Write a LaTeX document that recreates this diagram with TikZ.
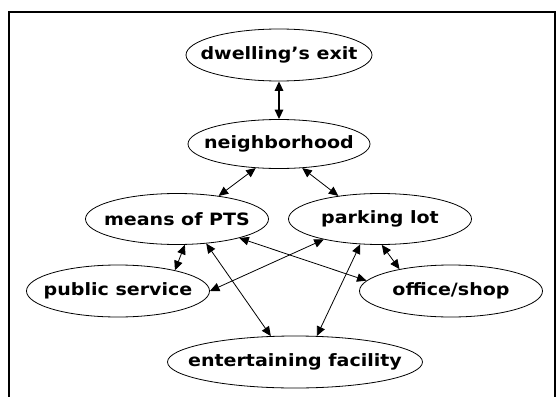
\documentclass[tikz,border=0pt]{standalone}
\usepackage{fontspec}
\usepackage{graphicx}
\setmainfont{DejaVu Sans}
\usetikzlibrary{shapes.geometric,arrows.meta}

% text inside an ellipse, a little wider, and not widening it
\newcommand{\clab}[1]{\makebox[0pt]{\scalebox{1.12}[1]{#1}}}

\begin{document}
\begin{tikzpicture}[x=1pt,y=-1pt,
  place/.style={draw, ellipse, inner sep=0pt, minimum width=183pt, minimum height=51pt,
    line width=0.8pt, font=\fontsize{17}{18}\selectfont\bfseries},
  link/.style={{Triangle[length=9.5pt,width=8.5pt]}-{Triangle[length=9.5pt,width=8.5pt]}, line width=0.8pt}]
\useasboundingbox (0,0) rectangle (556,396);
% frame, open at the bottom
\draw[line width=2pt] (9,410) -- (9,12.5) -- (555,12.5) -- (555,410);
% places
\node[place, minimum width=186pt, minimum height=52pt] (D) at (279,55) {\clab{dwelling’s exit}};
\node[place, minimum width=182pt, minimum height=49pt] (N) at (279,144) {\clab{neighborhood}};
\node[place] (M) at (177,219) {\clab{means of PTS}};
\node[place] (P) at (380,219) {\clab{parking lot}};
\node[place, minimum height=52pt] (S) at (118,291) {\clab{public service}};
\node[place, minimum height=52pt] (O) at (451,291) {\clab{office/shop}};
\node[place, minimum width=255pt, minimum height=52pt] (E) at (295,362) {\clab{entertaining facility}};
% links
\draw[link, line width=1.5pt] (D.south) -- (N.north);
\draw[link] (N.226) -- (M.29);
\draw[link] (N.314) -- (P.151);
\draw[link] (M.-73) -- (S.20);
\draw[link] (M.-40) -- (E.133);
\draw[link] (M.-17) -- (O.173);
\draw[link] (P.200) -- (S.0);
\draw[link] (P.232) -- (E.50);
\draw[link] (P.274) -- (O.157);
\end{tikzpicture}
\end{document}
